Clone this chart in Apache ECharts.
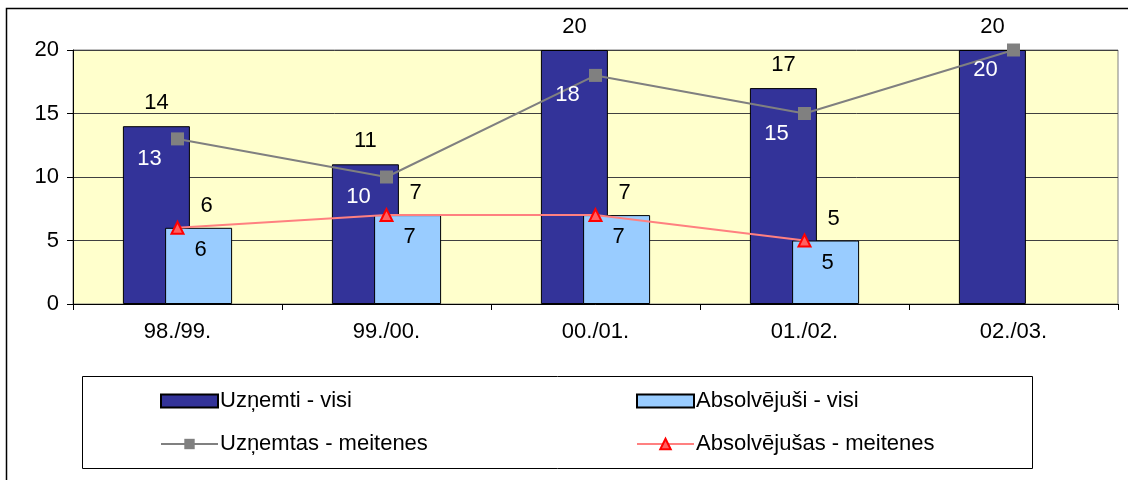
<!DOCTYPE html>
<html>
<head>
<meta charset="utf-8">
<script src="https://cdn.jsdelivr.net/npm/echarts@6/dist/echarts.min.js"></script>
<style>
  html, body { margin: 0; padding: 0; background: #fff; }
  #chart1 { width: 1128px; height: 480px; }
</style>
</head>
<body>
<div id="chart1"></div>
<script>
// dati
var years = ['98./99.', '99./00.', '00./01.', '01./02.', '02./03.'];
var uznemtiVisi = [14, 11, 20, 17, 20];
var absolvejusiVisi = [6, 7, 7, 5, null];
var uznemtasMeitenes = [13, 10, 18, 15, 20];
var absolvejusasMeitenes = [6, 7, 7, 5, null];
var yTicks = [0, 5, 10, 15, 20];

var FONT = 'Arial, "Liberation Sans", sans-serif';
var FS = 22;

var myChart1 = echarts.init(document.getElementById('chart1'));

var option = {
    backgroundColor: '#ffffff',
    animation: false,
    textStyle: { fontFamily: FONT, color: '#000' },
    graphic: [
        { type: 'rect', shape: { x: 6.5, y: 8.5, width: 1130, height: 480 },
          style: { fill: 'none', stroke: '#000', lineWidth: 1.5 }, silent: true },
        { type: 'rect', shape: { x: 82.5, y: 376.5, width: 950, height: 92 },
          style: { fill: 'none', stroke: '#000', lineWidth: 1 }, silent: true }
    ],
    grid: {
        left: 73, right: 10, top: 50, bottom: 176,
        show: true,
        backgroundColor: '#FFFFCC',
        borderColor: '#808080',
        borderWidth: 1
    },
    legend: [
        {
            data: [{ name: 'Uzņemti - visi', icon: 'rect' }, { name: 'Uzņemtas - meitenes' }],
            orient: 'vertical',
            left: 155, top: 385,
            itemWidth: 57, itemHeight: 13, itemGap: 21,
            textStyle: { fontSize: FS, fontFamily: FONT, color: '#000', padding: [0, 0, 0, -3] }
        },
        {
            data: [{ name: 'Absolvējuši - visi', icon: 'rect' }, { name: 'Absolvējušas - meitenes' }],
            orient: 'vertical',
            left: 631, top: 385,
            itemWidth: 57, itemHeight: 13, itemGap: 21,
            textStyle: { fontSize: FS, fontFamily: FONT, color: '#000', padding: [0, 0, 0, -3] }
        }
    ],
    xAxis: {
        type: 'category',
        data: years,
        axisLine: { lineStyle: { color: '#000', width: 1 } },
        axisTick: { show: true, length: 6, lineStyle: { color: '#000' } },
        axisLabel: { fontSize: FS, color: '#000', margin: 17, fontFamily: FONT }
    },
    yAxis: {
        type: 'value',
        min: yTicks[0],
        max: yTicks[yTicks.length - 1],
        interval: 5,
        axisLine: { show: true, lineStyle: { color: '#000', width: 1 } },
        axisTick: { show: true, length: 6, lineStyle: { color: '#000' } },
        axisLabel: { fontSize: FS, color: '#000', margin: 14, fontFamily: FONT },
        splitLine: { show: true, lineStyle: { color: '#404040', width: 1 } }
    },
    series: [
        {
            name: 'Uzņemti - visi',
            type: 'bar',
            data: uznemtiVisi,
            barWidth: 67,
            barGap: '-37%',
            itemStyle: { color: '#333399', borderColor: '#000', borderWidth: 1 },
            label: { show: true, position: 'top', distance: 12, fontSize: FS, color: '#000', fontFamily: FONT }
        },
        {
            name: 'Absolvējuši - visi',
            type: 'bar',
            data: absolvejusiVisi,
            barWidth: 67,
            barGap: '-37%',
            itemStyle: { color: '#99CCFF', borderColor: '#000', borderWidth: 1 },
            label: { show: true, position: 'top', distance: 11, offset: [8, 0], fontSize: FS, color: '#000', fontFamily: FONT }
        },
        {
            name: 'Uzņemtas - meitenes',
            type: 'line',
            data: uznemtasMeitenes,
            symbol: 'rect',
            symbolSize: 13,
            lineStyle: { color: '#808080', width: 2 },
            itemStyle: { color: '#808080' },
            label: { show: true, position: 'inside', offset: [-28, 20], fontSize: FS, color: '#fff', fontFamily: FONT }
        },
        {
            name: 'Absolvējušas - meitenes',
            type: 'line',
            data: absolvejusasMeitenes,
            symbol: 'triangle',
            symbolSize: 12,
            lineStyle: { color: '#FF8080', width: 2 },
            itemStyle: { color: '#FF6060', borderColor: '#FF0000', borderWidth: 2 },
            label: { show: true, position: 'inside', offset: [23, 22], fontSize: FS, color: '#000', fontFamily: FONT }
        }
    ]
};

myChart1.setOption(option);
</script>
</body>
</html>
